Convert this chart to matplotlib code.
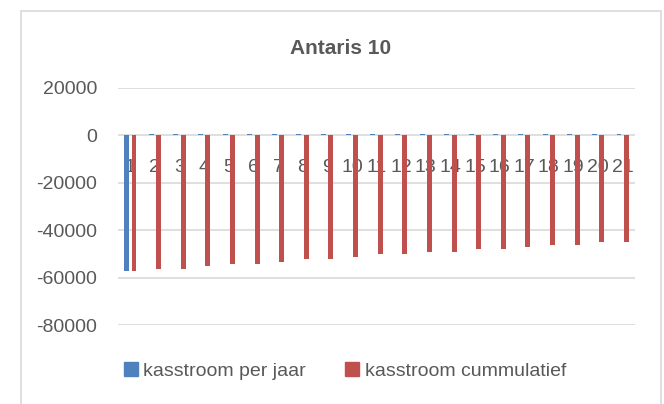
import matplotlib
matplotlib.use("Agg")
import matplotlib.pyplot as plt
import numpy as np
from matplotlib.patches import Rectangle, Patch

jaren = [str(i) for i in range(1, 22)]
per_jaar = [-57400] + [600] * 20
cummulatief = [-57400, -56300, -56300, -55300, -54300, -54300, -53300, -52200, -52200, -51200,
               -50200, -50200, -49200, -49200, -48100, -48100, -47100, -46100, -46100, -45100, -45100]
yticks = [20000, 0, -20000, -40000, -60000, -80000]

blauw = "#4F81BD"
rood = "#C0504D"
grijs = "#595959"
plt.rcParams["font.family"] = ["Liberation Sans", "DejaVu Sans"]

fig = plt.figure(figsize=(6.64, 4.04), dpi=100)
fig.patches.append(Rectangle((21 / 664, -0.02), 640 / 664, 1.02 - 11 / 404,
                             transform=fig.transFigure, fill=False,
                             edgecolor="#d9d9d9", linewidth=1.2))

ax = fig.add_axes([118 / 664, 79 / 404, 517 / 664, 237 / 404])
x = np.arange(len(jaren))
ax.bar(x - 0.15, per_jaar, width=0.2, color=blauw, zorder=3)
ax.bar(x + 0.15, cummulatief, width=0.2, color=rood, zorder=3)

ax.set_xlim(-0.5, len(jaren) - 0.5)
ax.set_ylim(-80000, 20000)
ax.set_yticks(yticks)
ax.set_yticklabels([str(v) for v in yticks])
ax.set_xticks(x)
ax.set_xticklabels(jaren)
ax.grid(axis="y", color="#d9d9d9", linewidth=1.2, zorder=0)
for s in ["top", "right", "left"]:
    ax.spines[s].set_visible(False)
ax.spines["bottom"].set_position(("data", 0))
ax.spines["bottom"].set_visible(False)
ax.tick_params(axis="y", length=0, pad=15, labelsize=14, labelcolor=grijs)
ax.tick_params(axis="x", length=0, pad=17, labelsize=14, labelcolor=grijs)

fig.text(341 / 664, 1 - 48 / 404, "Antaris 10", ha="center", va="center",
         fontsize=15, fontweight="bold", color=grijs)

handles = [Patch(color=blauw, label="kasstroom per jaar"),
           Patch(color=rood, label="kasstroom cummulatief")]
fig.legend(handles=handles, loc="center", bbox_to_anchor=(345 / 664, 1 - 371 / 404),
           ncol=2, frameon=False, fontsize=14, labelcolor=grijs,
           handlelength=0.7, handleheight=0.7, handletextpad=0.3, columnspacing=2.0)

fig.savefig("out.png", dpi=100)
